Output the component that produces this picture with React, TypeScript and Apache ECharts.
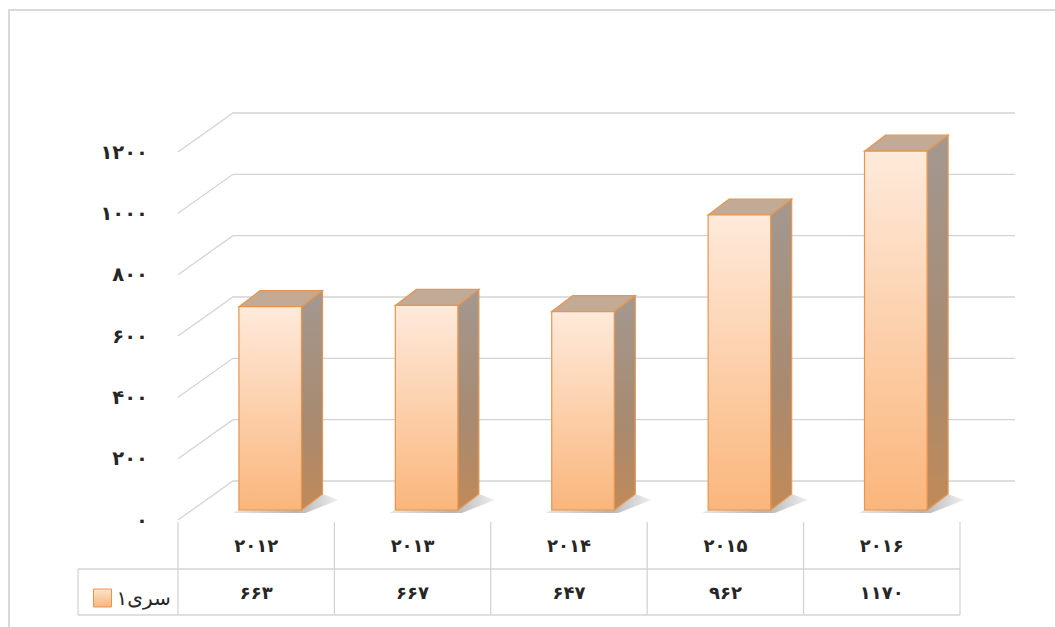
import React, { useEffect, useRef } from "react";
import * as echarts from "echarts";

const years = ["2012", "2013", "2014", "2015", "2016"];
const values = [663, 667, 647, 962, 1170];
const seriesName = "سری۱";
const yMin = 0;
const yMax = 1200;
const yStep = 200;
const gridTicks = [0, 200, 400, 600, 800, 1000, 1200];

const FA = "۰۱۲۳۴۵۶۷۸۹";
const toFa = (s: string | number) => String(s).replace(/\d/g, (d) => FA[Number(d)]);

const FONT = "DejaVu Sans";
const TXT = "#262626";
const LINE = "#d4d4d4";

// 3D projection offsets (pixels)
const WALL_DX = 55, WALL_DY = -39;
const BAR_OX = 14, BAR_OY = -10;
const BAR_DX = 21, BAR_DY = -16;

export default function App() {
  const ref = useRef<HTMLDivElement>(null);
  useEffect(() => {
    if (!ref.current) return;
    const chart = echarts.init(ref.current, null, { renderer: "svg" });
    const option: any = {
      animation: false,
      backgroundColor: "#ffffff",
      graphic: [
        {
          type: "rect",
          z: 0,
          shape: { x: 9, y: 10, width: 1200, height: 800 },
          style: { fill: "none", stroke: "#d9d9d9", lineWidth: 2 },
        },
      ],
      legend: {
        left: 88,
        top: 583,
        itemWidth: 18,
        itemHeight: 18,
        itemGap: 5,
        textStyle: { fontFamily: FONT, fontSize: 20, color: TXT },
        data: [
          {
            name: seriesName,
            icon: "rect",
            itemStyle: {
              color: new echarts.graphic.LinearGradient(0, 0, 0, 1, [
                { offset: 0, color: "#fde3cc" },
                { offset: 1, color: "#f9b57c" },
              ]),
              borderColor: "#e8954f",
              borderWidth: 1,
            },
          },
        ],
      },
      grid: { left: 178, top: 152, width: 782, height: 368 },
      xAxis: {
        type: "category",
        data: years,
        axisLine: { show: false },
        axisTick: { show: false },
        splitLine: { show: false },
        axisLabel: {
          margin: 25,
          verticalAlign: "middle",
          formatter: (v: string) => toFa(v),
          fontFamily: FONT,
          fontSize: 18,
          fontWeight: "bold",
          color: TXT,
        },
      },
      yAxis: {
        type: "value",
        min: yMin,
        max: yMax,
        interval: yStep,
        axisLine: { show: false },
        axisTick: { show: false },
        splitLine: { show: false },
        axisLabel: {
          margin: 30,
          formatter: (v: number) => toFa(v),
          fontFamily: FONT,
          fontSize: 19.5,
          fontWeight: "bold",
          color: TXT,
        },
      },
      series: [
        {
          name: "grid3d",
          type: "custom",
          z: 1,
          silent: true,
          legendHoverLink: false,
          data: gridTicks.map((t) => [0, t]),
          encode: { x: 0, y: 1 },
          renderItem: (params: any, api: any) => {
            const cs = params.coordSys;
            const y = api.coord([0, api.value(1)])[1];
            return {
              type: "polyline",
              shape: {
                points: [
                  [cs.x, y],
                  [cs.x + WALL_DX, y + WALL_DY],
                  [cs.x + cs.width + WALL_DX, y + WALL_DY],
                ],
              },
              style: { stroke: LINE, lineWidth: 1.3, fill: "none" },
            };
          },
        },
        {
          name: "table",
          type: "custom",
          z: 1,
          silent: true,
          data: values.map((v, i) => [i, v]),
          encode: { x: 0, y: 1 },
          renderItem: (params: any, api: any) => {
            const cs = params.coordSys;
            const i = api.value(0);
            const v = api.value(1);
            const band = api.size([1, 0])[0];
            const cx = api.coord([i, 0])[0];
            const y0 = cs.y + cs.height;
            const yTop = y0 + 2;
            const yMid = y0 + 49;
            const yBot = y0 + 95;
            const xl = cx - band / 2;
            const xr = cx + band / 2;
            const children: any[] = [
              {
                type: "line",
                shape: { x1: xr, y1: yTop, x2: xr, y2: yBot },
                style: { stroke: LINE, lineWidth: 1.3 },
              },
              {
                type: "line",
                shape: { x1: xl, y1: yMid, x2: xr, y2: yMid },
                style: { stroke: LINE, lineWidth: 1.3 },
              },
              {
                type: "line",
                shape: { x1: xl, y1: yBot, x2: xr, y2: yBot },
                style: { stroke: LINE, lineWidth: 1.3 },
              },
              {
                type: "text",
                style: {
                  text: toFa(v),
                  x: cx,
                  y: (yMid + yBot) / 2,
                  align: "center",
                  verticalAlign: "middle",
                  fontFamily: FONT,
                  fontSize: 18,
                  fontWeight: "bold",
                  fill: TXT,
                },
              },
            ];
            if (i === 0) {
              const lx = xl - 100;
              children.push(
                { type: "line", shape: { x1: xl, y1: yTop, x2: xl, y2: yBot }, style: { stroke: LINE, lineWidth: 1.3 } },
                { type: "line", shape: { x1: lx, y1: yMid, x2: xl, y2: yMid }, style: { stroke: LINE, lineWidth: 1.3 } },
                { type: "line", shape: { x1: lx, y1: yBot, x2: xl, y2: yBot }, style: { stroke: LINE, lineWidth: 1.3 } },
                { type: "line", shape: { x1: lx, y1: yMid, x2: lx, y2: yBot }, style: { stroke: LINE, lineWidth: 1.3 } }
              );
            }
            return { type: "group", children };
          },
        },
        {
          name: seriesName,
          type: "custom",
          z: 3,
          itemStyle: { color: "#fbc89c" },
          data: values.map((v, i) => [i, v]),
          encode: { x: 0, y: 1 },
          renderItem: (params: any, api: any) => {
            const i = api.value(0);
            const v = api.value(1);
            const top = api.coord([i, v]);
            const bot = api.coord([i, 0]);
            const band = api.size([1, 0])[0];
            const bw = band * 0.4;
            const cx = top[0] + BAR_OX;
            const x0 = cx - bw / 2;
            const x1 = cx + bw / 2;
            const yt = top[1] + BAR_OY;
            const yb = bot[1] + BAR_OY;
            const edge = "#e8954f";
            return {
              type: "group",
              children: [
                {
                  type: "polygon",
                  shape: {
                    points: [
                      [x0 - 6, yb + 3],
                      [x1 + 4, yb + 3],
                      [x1 + BAR_DX + 16, yb + BAR_DY + 6],
                      [x1 + BAR_DX, yb + BAR_DY],
                      [x0, yb],
                    ],
                  },
                  style: {
                    fill: new echarts.graphic.LinearGradient(0, 0, 1, 0, [
                      { offset: 0, color: "rgba(90,90,90,0.15)" },
                      { offset: 0.6, color: "rgba(90,90,90,0.45)" },
                      { offset: 1, color: "rgba(90,90,90,0.1)" },
                    ]),
                  },
                },
                {
                  type: "polygon",
                  shape: {
                    points: [
                      [x1, yt],
                      [x1 + BAR_DX, yt + BAR_DY],
                      [x1 + BAR_DX, yb + BAR_DY],
                      [x1, yb],
                    ],
                  },
                  style: {
                    fill: new echarts.graphic.LinearGradient(0, 0, 0, 1, [
                      { offset: 0, color: "#a39890" },
                      { offset: 0.6, color: "#a88a70" },
                      { offset: 1, color: "#c08a58" },
                    ]),
                    stroke: edge,
                    lineWidth: 1.2,
                  },
                },
                {
                  type: "polygon",
                  shape: {
                    points: [
                      [x0, yt],
                      [x0 + BAR_DX, yt + BAR_DY],
                      [x1 + BAR_DX, yt + BAR_DY],
                      [x1, yt],
                    ],
                  },
                  style: {
                    fill: "#c2aa94",
                    stroke: edge,
                    lineWidth: 1.2,
                  },
                },
                {
                  type: "rect",
                  shape: { x: x0, y: yt, width: bw, height: yb - yt },
                  style: {
                    fill: new echarts.graphic.LinearGradient(0, 0, 0, 1, [
                      { offset: 0, color: "#feeadb" },
                      { offset: 1, color: "#fab67c" },
                    ]),
                    stroke: edge,
                    lineWidth: 1.2,
                  },
                },
              ],
            };
          },
        },
      ],
    };
    chart.setOption(option);
    return () => chart.dispose();
  }, []);
  return (
    <div
      ref={ref}
      style={{ position: "fixed", left: 0, top: 0, width: 1055, height: 627 }}
    />
  );
}
